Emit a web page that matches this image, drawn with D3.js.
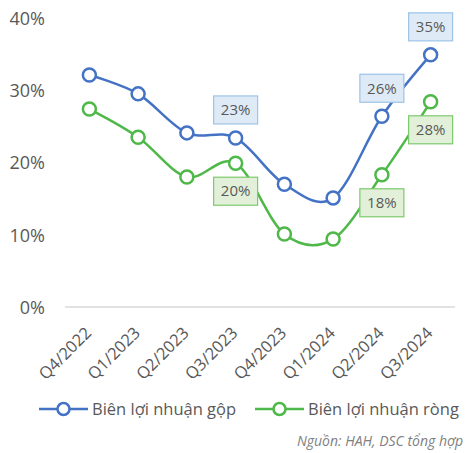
<!DOCTYPE html>
<html>
<head>
<meta charset="utf-8">
<script src="https://cdn.jsdelivr.net/npm/d3@7"></script>
<style>
  body { margin: 0; background: #fff; }
  svg text { font-family: "Open Sans", "Noto Sans", sans-serif; fill: #595959; }
</style>
</head>
<body>
<div id="chart"></div>
<script>
// Data
const quarters = ['Q4/2022', 'Q1/2023', 'Q2/2023', 'Q3/2023', 'Q4/2023', 'Q1/2024', 'Q2/2024', 'Q3/2024'];
const grossMargin = [32.1, 29.5, 24.1, 23.4, 17.0, 15.1, 26.4, 34.9];
const netMargin = [27.4, 23.5, 18.0, 19.9, 10.1, 9.4, 18.3, 28.4];
const grossLabeled = [3, 6, 7];
const netLabeled = [3, 6, 7];
const yTicks = [0, 10, 20, 30, 40];
const seriesNames = ['Biên lợi nhuận gộp', 'Biên lợi nhuận ròng'];
const sourceNote = 'Nguồn: HAH, DSC tổng hợp';

const width = 466, height = 453;

const svg = d3.select('#chart')
    .append('svg')
    .attr('width', width)
    .attr('height', height);

// Scales
const xScale = d3.scaleBand()
    .domain(quarters)
    .range([65, 455]);
const cx = q => xScale(q) + xScale.bandwidth() / 2;

const yScale = d3.scaleLinear()
    .domain([0, 40])
    .range([307, 18]);

// Y axis labels (no axis line)
const yAxis = d3.axisLeft(yScale)
    .tickValues(yTicks)
    .tickFormat(d => d + '%')
    .tickSize(0)
    .tickPadding(0);

svg.append('g')
    .attr('transform', 'translate(45,0)')
    .call(yAxis)
    .call(g => g.select('.domain').remove())
    .selectAll('text')
    .style('font-size', '18px')
    .attr('dy', '0.35em');

// Baseline
svg.append('line')
    .attr('x1', 65)
    .attr('x2', 455)
    .attr('y1', yScale(0))
    .attr('y2', yScale(0))
    .attr('stroke', '#d9d9d9')
    .attr('stroke-width', 1.5);

// X category labels, rotated
svg.append('g')
    .selectAll('text')
    .data(quarters)
    .join('text')
    .attr('transform', d => `translate(${cx(d) + 3},${yScale(0) + 27}) rotate(-45)`)
    .attr('text-anchor', 'end')
    .style('font-size', '16.5px')
    .text(d => d);

const series = [
    { values: grossMargin, color: '#4472c4', labeled: grossLabeled, offset: -28,
      fill: '#deebf7', stroke: '#9dc3e6' },
    { values: netMargin, color: '#4eb848', labeled: netLabeled, offset: 28,
      fill: '#e2f0d9', stroke: '#7cc96c' }
];

const line = d3.line()
    .x((d, i) => cx(quarters[i]))
    .y(d => yScale(d))
    .curve(d3.curveCardinal.tension(0));

series.forEach(s => {
    svg.append('path')
        .datum(s.values)
        .attr('d', line)
        .attr('fill', 'none')
        .attr('stroke', s.color)
        .attr('stroke-width', 2.5);

    svg.append('g')
        .selectAll('circle')
        .data(s.values)
        .join('circle')
        .attr('cx', (d, i) => cx(quarters[i]))
        .attr('cy', d => yScale(d))
        .attr('r', 6.5)
        .attr('fill', '#fff')
        .attr('stroke', s.color)
        .attr('stroke-width', 2.5);
});

// Data labels
series.forEach(s => {
    const g = svg.append('g');
    s.labeled.forEach(i => {
        const x = cx(quarters[i]);
        const y = yScale(s.values[i]) + s.offset;
        g.append('rect')
            .attr('x', x - 22)
            .attr('y', y - 14)
            .attr('width', 44)
            .attr('height', 28)
            .attr('fill', s.fill)
            .attr('stroke', s.stroke)
            .attr('stroke-width', 1.2);
        g.append('text')
            .attr('x', x)
            .attr('y', y)
            .attr('dy', '0.35em')
            .attr('text-anchor', 'middle')
            .style('font-size', '15px')
            .text(Math.round(s.values[i]) + '%');
    });
});

// Legend
const legendX = [39, 255];
series.forEach((s, i) => {
    const g = svg.append('g').attr('transform', `translate(${legendX[i]},409)`);
    g.append('line')
        .attr('x1', 0).attr('x2', 49)
        .attr('stroke', s.color)
        .attr('stroke-width', 2.5);
    g.append('circle')
        .attr('cx', 24.5).attr('r', 6)
        .attr('fill', '#fff')
        .attr('stroke', s.color)
        .attr('stroke-width', 2.5);
    g.append('text')
        .attr('x', 53)
        .attr('dy', '0.35em')
        .style('font-size', '16.5px')
        .text(seriesNames[i]);
});

// Source note
svg.append('text')
    .attr('x', 463)
    .attr('y', 441)
    .attr('dy', '0.35em')
    .attr('text-anchor', 'end')
    .style('font-size', '14px')
    .style('font-style', 'italic')
    .style('fill', '#7f7f7f')
    .text(sourceNote);
</script>
</body>
</html>
